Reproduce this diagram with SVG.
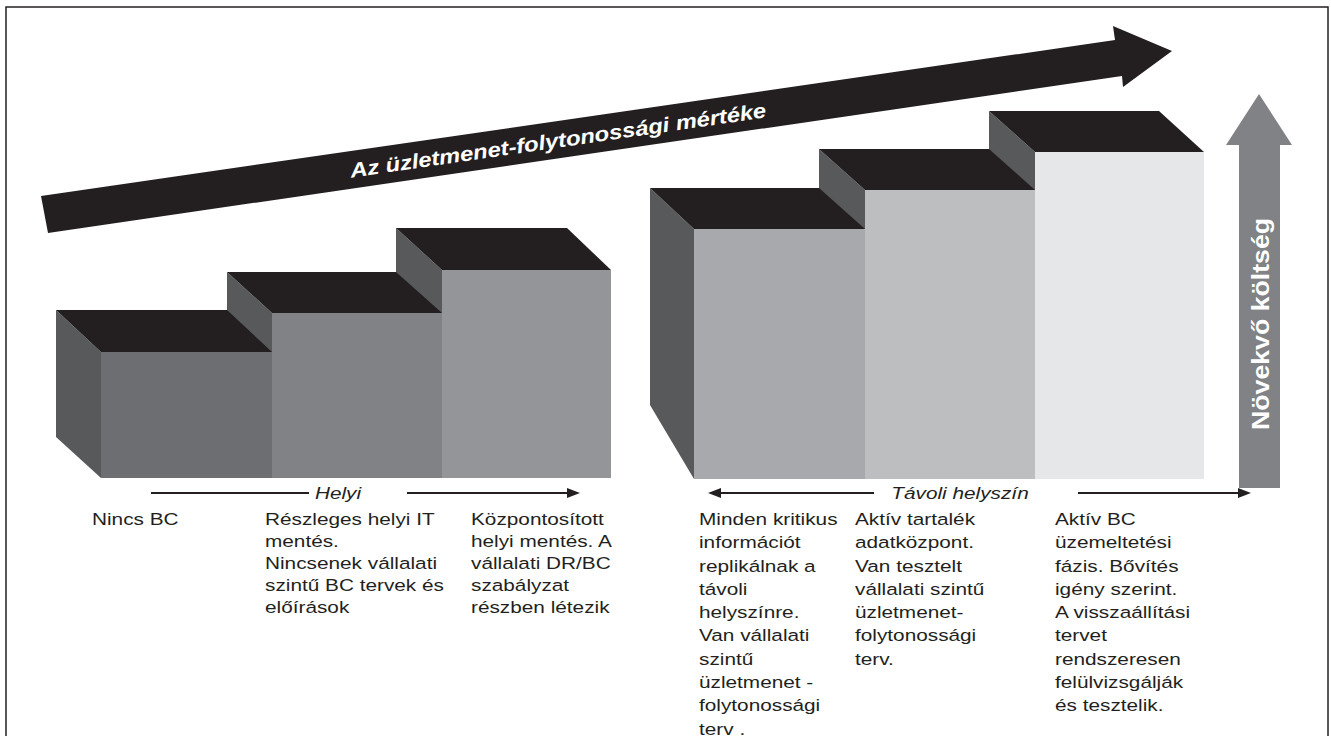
<svg xmlns="http://www.w3.org/2000/svg" width="1331" height="736" viewBox="0 0 1331 736">
  <defs>
    <style>
      .top { fill: #231f20; }
      .side { fill: #58595b; }
      .frame { fill: none; stroke: #231f20; stroke-width: 1.5; }
      .rule { stroke: #231f20; stroke-width: 2; fill: none; }
      .head { fill: #231f20; }
      .body { font-family: "Liberation Sans", Arial, sans-serif; font-size: 16.5px; fill: #231f20; }
      .label { font-family: "Liberation Sans", Arial, sans-serif; font-size: 16.5px; font-style: italic; fill: #231f20; }
      .banner { font-family: "Liberation Sans Narrow", "Liberation Sans", Arial, sans-serif; font-size: 20.5px; font-weight: bold; font-style: italic; fill: #ffffff; }
      .cost { font-family: "Liberation Sans", Arial, sans-serif; font-size: 24px; font-weight: bold; fill: #ffffff; }
    </style>
  </defs>

  <rect id="frame" class="frame" x="6" y="7" width="1322" height="740"/>

  <!-- rising continuity arrow -->
  <g id="continuity-arrow">
    <polygon points="41,196 1115,40 1113,26 1172,51 1123,87 1122,76 48,233" fill="#231f20"/>
    <text class="banner" transform="translate(558,140) rotate(-8.27)" x="0" y="7.5" text-anchor="middle" textLength="420" lengthAdjust="spacingAndGlyphs">Az üzletmenet-folytonossági mértéke</text>
  </g>

  <!-- local steps (drawn right to left so nearer faces overlap) -->
  <g id="step-3">
    <polygon class="side" points="396,228 442,270 442,478 396,437"/>
    <polygon class="top" points="396,228 567,228 611,270 442,270"/>
    <rect x="442" y="270" width="169" height="208" fill="#939598"/>
  </g>
  <g id="step-2">
    <polygon class="side" points="227,272 272,313 272,478 227,437"/>
    <polygon class="top" points="227,272 396,272 442,313 272,313"/>
    <rect x="272" y="313" width="170" height="165" fill="#808285"/>
  </g>
  <g id="step-1">
    <polygon class="side" points="56,310 101,352 101,478 56,437"/>
    <polygon class="top" points="56,310 227,310 272,352 101,352"/>
    <rect x="101" y="352" width="171" height="126" fill="#6d6e71"/>
  </g>

  <!-- remote-site steps -->
  <g id="step-6">
    <polygon class="side" points="989,111 1035,152 1035,479 989,410"/>
    <polygon class="top" points="989,111 1159,111 1204,152 1035,152"/>
    <rect x="1035" y="152" width="169" height="327" fill="#e6e7e8"/>
  </g>
  <g id="step-5">
    <polygon class="side" points="819,149 865,190 865,479 819,410"/>
    <polygon class="top" points="819,149 989,149 1035,190 865,190"/>
    <rect x="865" y="190" width="170" height="289" fill="#bcbec0"/>
  </g>
  <g id="step-4">
    <polygon class="side" points="650,188 694,229 694,479 650,405"/>
    <polygon class="top" points="650,188 819,188 865,229 694,229"/>
    <rect x="694" y="229" width="171" height="250" fill="#a7a9ac"/>
  </g>

  <!-- rising cost arrow -->
  <g id="cost-arrow">
    <polygon points="1259,94 1292,145 1280,145 1280,488 1239,488 1239,145 1226,145" fill="#808285"/>
    <text class="cost" transform="translate(1269,324) rotate(-90)" x="0" y="0" text-anchor="middle" textLength="212" lengthAdjust="spacingAndGlyphs">Növekvő költség</text>
  </g>

  <!-- range connectors -->
  <g id="connectors">
    <line class="rule" x1="151" y1="493" x2="309" y2="493"/>
    <line class="rule" x1="407" y1="493" x2="570" y2="493"/>
    <polygon class="head" points="580,493 567,488 567,498"/>
    <line class="rule" x1="718" y1="493" x2="874" y2="493"/>
    <polygon class="head" points="708,493 721,488 721,498"/>
    <line class="rule" x1="1078" y1="493" x2="1241" y2="493"/>
    <polygon class="head" points="1251,493 1238,488 1238,498"/>
  </g>

  <g id="range-labels">
    <text class="label" transform="translate(338,0) scale(1.26,1)" x="0" y="499" text-anchor="middle">Helyi</text>
    <text class="label" transform="translate(960,0) scale(1.26,1)" x="0" y="499" text-anchor="middle">Távoli helyszín</text>
  </g>

  <!-- stage descriptions -->
  <g id="desc-1">
    <text class="body" transform="translate(92,0) scale(1.26,1)"><tspan x="0" y="525">Nincs BC</tspan></text>
  </g>
  <g id="desc-2">
    <text class="body" transform="translate(265,0) scale(1.26,1)">
      <tspan x="0" y="525">Részleges helyi IT</tspan>
      <tspan x="0" y="547">mentés.</tspan>
      <tspan x="0" y="569">Nincsenek vállalati</tspan>
      <tspan x="0" y="591">szintű BC tervek és</tspan>
      <tspan x="0" y="613">előírások</tspan>
    </text>
  </g>
  <g id="desc-3">
    <text class="body" transform="translate(471,0) scale(1.26,1)">
      <tspan x="0" y="525">Központosított</tspan>
      <tspan x="0" y="547">helyi mentés. A</tspan>
      <tspan x="0" y="569">vállalati DR/BC</tspan>
      <tspan x="0" y="591">szabályzat</tspan>
      <tspan x="0" y="613">részben létezik</tspan>
    </text>
  </g>
  <g id="desc-4">
    <text class="body" transform="translate(699,0) scale(1.26,1)">
      <tspan x="0" y="525">Minden kritikus</tspan>
      <tspan x="0" y="548.3">információt</tspan>
      <tspan x="0" y="571.6">replikálnak a</tspan>
      <tspan x="0" y="594.9">távoli</tspan>
      <tspan x="0" y="618.2">helyszínre.</tspan>
      <tspan x="0" y="641.5">Van vállalati</tspan>
      <tspan x="0" y="664.8">szintű</tspan>
      <tspan x="0" y="688.1">üzletmenet -</tspan>
      <tspan x="0" y="711.4">folytonossági</tspan>
      <tspan x="0" y="734.7">terv .</tspan>
    </text>
  </g>
  <g id="desc-5">
    <text class="body" transform="translate(855,0) scale(1.26,1)">
      <tspan x="0" y="525">Aktív tartalék</tspan>
      <tspan x="0" y="548.3">adatközpont.</tspan>
      <tspan x="0" y="571.6">Van tesztelt</tspan>
      <tspan x="0" y="594.9">vállalati szintű</tspan>
      <tspan x="0" y="618.2">üzletmenet-</tspan>
      <tspan x="0" y="641.5">folytonossági</tspan>
      <tspan x="0" y="664.8">terv.</tspan>
    </text>
  </g>
  <g id="desc-6">
    <text class="body" transform="translate(1055,0) scale(1.26,1)">
      <tspan x="0" y="525">Aktív BC</tspan>
      <tspan x="0" y="548.3">üzemeltetési</tspan>
      <tspan x="0" y="571.6">fázis. Bővítés</tspan>
      <tspan x="0" y="594.9">igény szerint.</tspan>
      <tspan x="0" y="618.2">A visszaállítási</tspan>
      <tspan x="0" y="641.5">tervet</tspan>
      <tspan x="0" y="664.8">rendszeresen</tspan>
      <tspan x="0" y="688.1">felülvizsgálják</tspan>
      <tspan x="0" y="711.4">és tesztelik.</tspan>
    </text>
  </g>
</svg>
